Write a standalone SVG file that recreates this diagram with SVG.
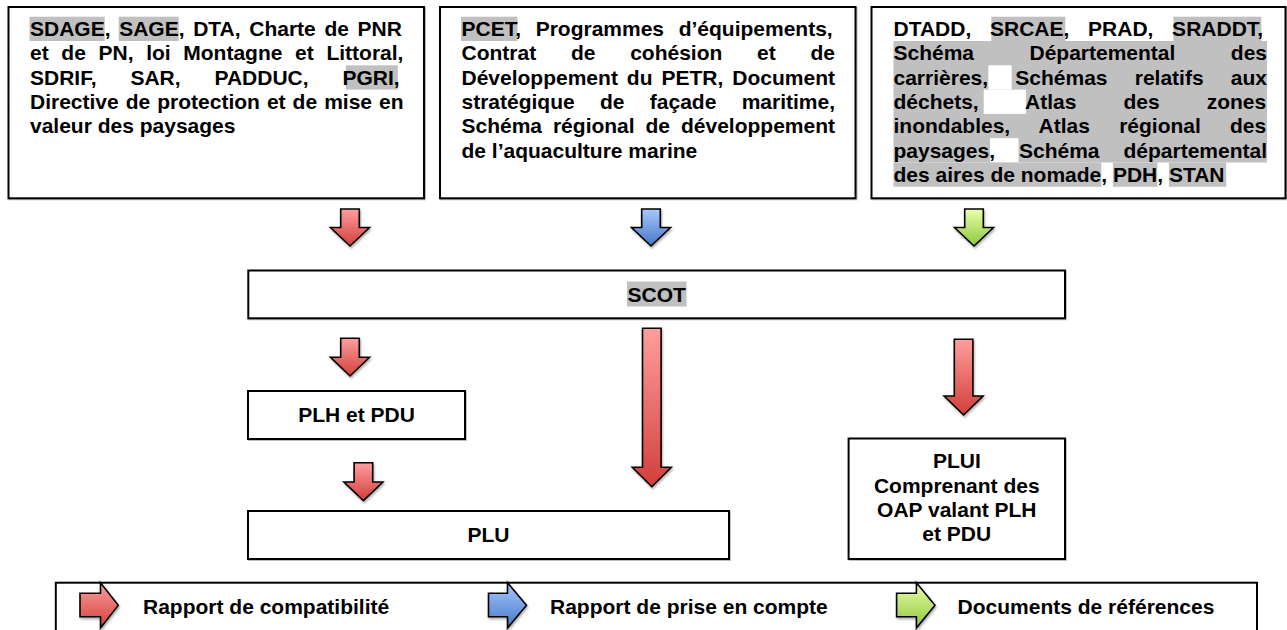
<svg xmlns="http://www.w3.org/2000/svg" width="1287" height="630" viewBox="0 0 1287 630">
<style>
.box{fill:#fff;stroke:#000;stroke-width:2;}
.t{font-family:"Liberation Sans",Arial,sans-serif;font-weight:bold;font-size:21px;fill:#000;}
.c{text-anchor:middle;}
.hl{fill:#c0c0c0;}
.wh{fill:#fff;}
.arr{stroke:#000;stroke-width:1.6;stroke-linejoin:miter;}
</style>
<defs>
<linearGradient id="gRed" x1="0" y1="0" x2="0" y2="1"><stop offset="0" stop-color="#ff9e9e"/><stop offset="1" stop-color="#d13f3a"/></linearGradient>
<linearGradient id="gBlue" x1="0" y1="0" x2="0" y2="1"><stop offset="0" stop-color="#a8c8ff"/><stop offset="1" stop-color="#4577c6"/></linearGradient>
<linearGradient id="gGreen" x1="0" y1="0" x2="0" y2="1"><stop offset="0" stop-color="#ecffaa"/><stop offset="1" stop-color="#8cc63c"/></linearGradient>
<filter id="sh" x="-20%" y="-20%" width="140%" height="140%"><feDropShadow dx="1" dy="2" stdDeviation="1" flood-color="#000" flood-opacity="0.3"/></filter>
<filter id="bsh" x="-5%" y="-5%" width="110%" height="110%"><feDropShadow dx="1" dy="1" stdDeviation="0.6" flood-color="#000" flood-opacity="0.25"/></filter>
</defs>

<g id="box-compat">
<rect class="box" x="8.5" y="7" width="415.5" height="191.3" filter="url(#bsh)"/>
<rect class="hl" x="29.5" y="16.7" width="75.2" height="24.3"/>
<rect class="hl" x="118.7" y="16.7" width="60" height="24.3"/>
<rect class="hl" x="345.8" y="65.3" width="52" height="24.3"/>
<text class="t" x="30" y="36" style="word-spacing:2.82px">SDAGE, SAGE, DTA, Charte de PNR</text>
<text class="t" x="30" y="60.3" style="word-spacing:6.82px">et de PN, loi Montagne et Littoral,</text>
<text class="t" x="30" y="84.6" style="word-spacing:28.05px">SDRIF, SAR, PADDUC, PGRI,</text>
<text class="t" x="30" y="108.9" style="word-spacing:1.18px">Directive de protection et de mise en</text>
<text class="t" x="30" y="133.2">valeur des paysages</text>
</g>

<g id="box-prise">
<rect class="box" x="440" y="7" width="415.5" height="191.3" filter="url(#bsh)"/>
<rect class="hl" x="461" y="16.7" width="56.5" height="24.3"/>
<text class="t" x="461.5" y="36" style="word-spacing:8.79px">PCET, Programmes d’équipements,</text>
<text class="t" x="461.5" y="60.3" style="word-spacing:28.9px">Contrat de cohésion et de</text>
<text class="t" x="461.5" y="84.6" style="word-spacing:3.15px">Développement du PETR, Document</text>
<text class="t" x="461.5" y="108.9" style="word-spacing:19.47px">stratégique de façade maritime,</text>
<text class="t" x="461.5" y="133.2" style="word-spacing:5.07px">Schéma régional de développement</text>
<text class="t" x="461.5" y="157.5">de l’aquaculture marine</text>
</g>

<g id="box-references">
<rect class="box" x="871.5" y="7" width="414" height="191.3" filter="url(#bsh)"/>
<rect class="hl" x="991.3" y="16.7" width="74" height="24.3"/>
<rect class="hl" x="1173.4" y="16.7" width="88" height="24.3"/>
<rect class="hl" x="893.5" y="41" width="373.5" height="121.5"/>
<rect class="wh" x="988.3" y="65.3" width="23.4" height="24.3"/>
<rect class="wh" x="983.7" y="89.6" width="42.3" height="24.3"/>
<rect class="wh" x="990" y="138.2" width="28.5" height="24.3"/>
<rect class="hl" x="893.5" y="162.5" width="207.8" height="24.3"/>
<rect class="hl" x="1112.9" y="162.5" width="44.4" height="24.3"/>
<rect class="hl" x="1168.9" y="162.5" width="57.3" height="24.3"/>
<text class="t" x="893.5" y="36" style="word-spacing:12.89px">DTADD, SRCAE, PRAD, SRADDT,</text>
<text class="t" x="893.5" y="60.3" style="word-spacing:49.62px">Schéma Départemental des</text>
<text class="t" x="893.5" y="84.6" style="word-spacing:21.39px">carrières, Schémas relatifs aux</text>
<text class="t" x="893.5" y="108.9" style="word-spacing:41.25px">déchets, Atlas des zones</text>
<text class="t" x="893.5" y="133.2" style="word-spacing:23.36px">inondables, Atlas régional des</text>
<text class="t" x="893.5" y="157.5" style="word-spacing:18.1px">paysages, Schéma départemental</text>
<text class="t" x="893.5" y="181.8">des aires de nomade, PDH, STAN</text>
</g>

<g id="scot">
<rect class="box" x="248.3" y="270.5" width="816.7" height="47.8" filter="url(#bsh)"/>
<rect class="hl" x="627" y="281.5" width="59.5" height="25"/>
<text class="t c" x="656.7" y="301.5">SCOT</text>
</g>

<g id="plh-pdu">
<rect class="box" x="248" y="391" width="217" height="48" filter="url(#bsh)"/>
<text class="t c" x="356.5" y="422">PLH et PDU</text>
</g>

<g id="plu">
<rect class="box" x="248" y="511" width="481" height="48" filter="url(#bsh)"/>
<text class="t c" x="488.5" y="542">PLU</text>
</g>

<g id="plui">
<rect class="box" x="848.6" y="438.5" width="216.4" height="120.5" filter="url(#bsh)"/>
<text class="t c" x="956.8" y="468.3">PLUI</text>
<text class="t c" x="956.8" y="492.6">Comprenant des</text>
<text class="t c" x="956.8" y="516.9">OAP valant PLH</text>
<text class="t c" x="956.8" y="541.2">et PDU</text>
</g>

<g id="connectors">
<path class="arr" fill="url(#gRed)" filter="url(#sh)" d="M340.7,209 H359.3 V227.5 H369.5 L350,246 L330.5,227.5 H340.7 Z"/>
<path class="arr" fill="url(#gBlue)" filter="url(#sh)" d="M641.7,209 H660.3 V227.5 H670.5 L651,246 L631.5,227.5 H641.7 Z"/>
<path class="arr" fill="url(#gGreen)" filter="url(#sh)" d="M964.7,209 H983.3 V227.5 H993.5 L974,246 L954.5,227.5 H964.7 Z"/>
<path class="arr" fill="url(#gRed)" filter="url(#sh)" d="M340.7,338.3 H359.3 V357.3 H369.5 L350,376 L330.5,357.3 H340.7 Z"/>
<path class="arr" fill="url(#gRed)" filter="url(#sh)" d="M642.5,328.3 H661.1 V467.3 H671.3 L651.8,486.7 L632.3,467.3 H642.5 Z"/>
<path class="arr" fill="url(#gRed)" filter="url(#sh)" d="M354.1,462.7 H372.7 V482 H382.9 L363.4,500.7 L343.9,482 H354.1 Z"/>
<path class="arr" fill="url(#gRed)" filter="url(#sh)" d="M954.3,339.3 H972.9 V396 H983.1 L963.6,415 L944.1,396 H954.3 Z"/>
</g>

<g id="legend">
<rect class="box" x="55.8" y="582.7" width="1201.2" height="60"/>
<path class="arr" fill="url(#gRed)" filter="url(#sh)" d="M80,593.3 H100.5 V582.7 L118.3,605.3 L100.5,628 V616.7 H80 Z"/>
<text class="t" x="143" y="613.5">Rapport de compatibilité</text>
<path class="arr" fill="url(#gBlue)" filter="url(#sh)" d="M488.5,593.3 H507.5 V582.7 L526.5,605.3 L507.5,628 V616.7 H488.5 Z"/>
<text class="t" x="550" y="613.5">Rapport de prise en compte</text>
<path class="arr" fill="url(#gGreen)" filter="url(#sh)" d="M896.6,593.3 H916.4 V582.7 L935,605.3 L916.4,628 V616.7 H896.6 Z"/>
<text class="t" x="957.6" y="613.5">Documents de références</text>
</g>
</svg>
